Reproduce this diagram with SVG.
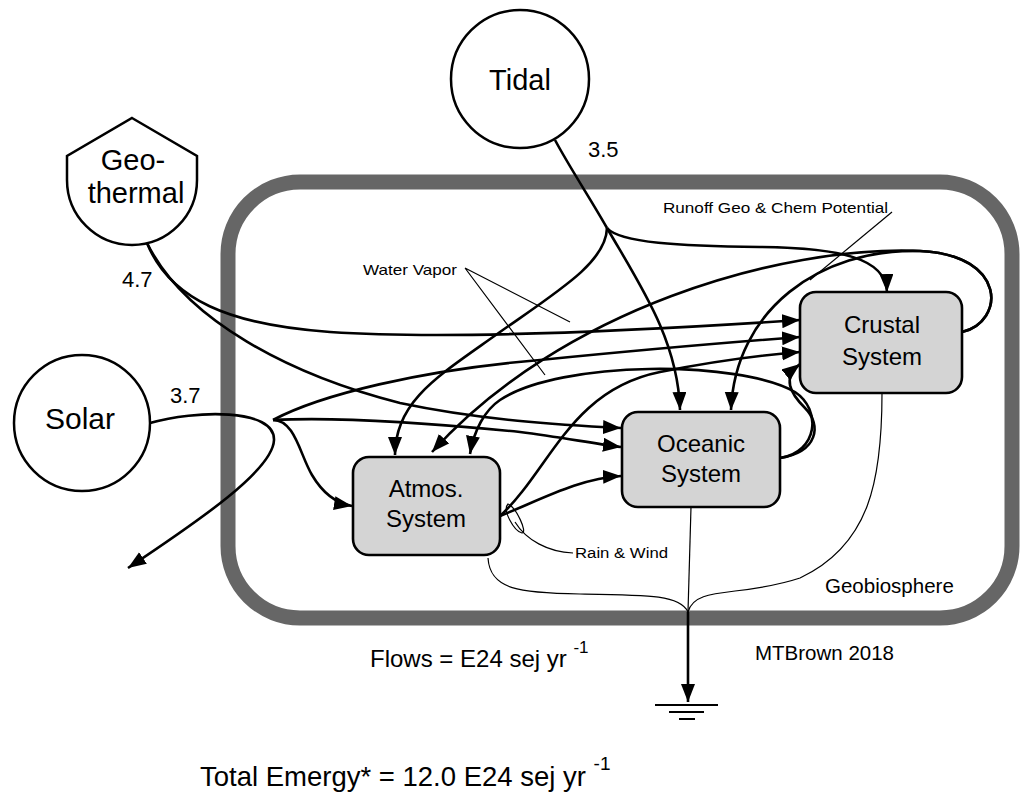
<svg xmlns="http://www.w3.org/2000/svg" width="1024" height="793" viewBox="0 0 1024 793">
<defs>
<style>
.flow{fill:none;stroke:#000;stroke-width:2.6}
.thin{fill:none;stroke:#000;stroke-width:1.2}
.src{fill:#fff;stroke:#000;stroke-width:2.5}
.box{fill:#d4d4d4;stroke:#000;stroke-width:2.6}
.t{font-family:"Liberation Sans",Arial,sans-serif;fill:#000}
.lbl{font-family:"Liberation Sans",Arial,sans-serif;fill:#000;text-anchor:middle}
</style>
<marker id="ah" markerUnits="userSpaceOnUse" markerWidth="20" markerHeight="16" refX="18" refY="7" orient="auto">
<path d="M0,0 L18,7 L0,14 Z" fill="#000"/>
</marker>
</defs>
<rect width="1024" height="793" fill="#fff"/>
<g id="geobiosphere">
<rect x="228" y="182" width="784" height="436" rx="72" ry="72" fill="none" stroke="#666" stroke-width="15"/>
<text class="t" x="825" y="593" font-size="20.5">Geobiosphere</text>
</g>
<g id="connectors">
<path class="flow" d="M555,140 C570,168 590,198 607,228"/>
<path class="flow" marker-end="url(#ah)" d="M607,228 C640,285 678,340 680,410"/>
<path class="flow" marker-end="url(#ah)" d="M607,228 C606,262 560,290 500,332 C440,375 395,400 395,455"/>
<path class="flow" marker-end="url(#ah)" d="M607,228 C620,243 680,246 760,247 C840,248 886,258 887,292"/>
<path class="flow" marker-end="url(#ah)" d="M147,243 C170,300 230,325 330,332 C450,340 650,330 800,320"/>
<path class="flow" marker-end="url(#ah)" d="M147,243 C185,320 290,375 400,403 C480,420 560,425 621,428"/>
<path class="flow" marker-end="url(#ah)" d="M150,423 C195,410 275,408 274,440 C273,470 200,520 128,568"/>
<path class="flow" marker-end="url(#ah)" d="M273,420 C295,420 300,455 312,475 C325,497 340,504 352,506"/>
<path class="flow" marker-end="url(#ah)" d="M273,420 C320,395 420,370 540,360 C640,350 720,343 800,337"/>
<path class="flow" marker-end="url(#ah)" d="M273,420 C350,416 450,425 520,432 C560,437 590,443 621,447"/>
<path class="flow" marker-end="url(#ah)" d="M500,516 C540,500 580,478 621,476"/>
<path class="flow" marker-end="url(#ah)" d="M500,516 C550,470 570,390 660,372 C700,364 750,356 800,352"/>
<path class="flow" marker-end="url(#ah)" d="M962,332 C1005,322 1008,255 920,251 C780,245 560,310 432,452"/>
<path class="flow" marker-end="url(#ah)" d="M962,332 C1005,322 1008,255 920,251 C820,248 735,310 731,410"/>
<path class="flow" marker-end="url(#ah)" d="M780,458 C818,452 822,410 795,392 C740,360 560,360 500,400 C485,410 474,430 470,454"/>
<path class="flow" marker-end="url(#ah)" d="M780,458 C818,452 822,425 805,408 C790,393 782,378 800,364"/>
<path class="thin" d="M488,558 C490,590 520,593 580,594 C650,595 680,595 688,612"/>
<path class="thin" d="M691,507 L688,612"/>
<path class="thin" d="M882,393 C882,480 870,545 800,578 C740,598 695,585 688,612"/>
<path class="flow" stroke-width="2.2" marker-end="url(#ah)" d="M688,612 L688,702"/>
<path class="thin" d="M465,268 L570,322 M465,268 L545,375"/>
<path class="thin" d="M892,212 L810,280"/>
<path class="thin" d="M508,504 C502,510 514,531 522,533 C528,533 516,507 508,504 Z"/>
<path class="thin" d="M515,522 C526,540 548,552 573,553"/>
</g>
<g id="ground">
<path d="M655,705 H718 M669,712 H704 M679,719 H695" stroke="#000" stroke-width="2"/>
</g>
<g id="tidal">
<circle class="src" cx="520" cy="79" r="69"/>
<text class="lbl" x="520" y="90" font-size="29">Tidal</text>
</g>
<g id="geothermal">
<path class="src" d="M132,118 L197,156 L197,180 A65,65 0 0 1 67,180 L67,156 Z"/>
<text class="lbl" x="133" y="170" font-size="29">Geo-</text>
<text class="lbl" x="136" y="203" font-size="29">thermal</text>
</g>
<g id="solar">
<circle class="src" cx="82" cy="423" r="68"/>
<text class="lbl" x="80" y="429" font-size="30">Solar</text>
</g>
<g id="atmos">
<rect class="box" x="353" y="457" width="147" height="98" rx="16"/>
<text class="lbl" x="426" y="497" font-size="24">Atmos.</text>
<text class="lbl" x="426" y="527" font-size="24">System</text>
</g>
<g id="oceanic">
<rect class="box" x="622" y="412" width="158" height="95" rx="16"/>
<text class="lbl" x="701" y="452" font-size="24">Oceanic</text>
<text class="lbl" x="701" y="482" font-size="24">System</text>
</g>
<g id="crustal">
<rect class="box" x="800" y="292" width="162" height="101" rx="16"/>
<text class="lbl" x="882" y="333" font-size="24">Crustal</text>
<text class="lbl" x="882" y="365" font-size="24">System</text>
</g>
<g id="labels">
<text class="t" x="588" y="157" font-size="22">3.5</text>
<text class="t" x="122" y="287" font-size="22">4.7</text>
<text class="t" x="170" y="403" font-size="22">3.7</text>
<text class="t" x="363" y="275" font-size="15" textLength="94" lengthAdjust="spacingAndGlyphs">Water Vapor</text>
<text class="t" x="663" y="213" font-size="14.5" textLength="225" lengthAdjust="spacingAndGlyphs">Runoff Geo &amp; Chem Potential</text>
<text class="t" x="575" y="558" font-size="15.5" textLength="93" lengthAdjust="spacingAndGlyphs">Rain &amp; Wind</text>
<text class="t" x="755" y="660" font-size="20.5">MTBrown 2018</text>
<text class="t" x="370" y="667" font-size="24">Flows = E24 sej yr <tspan dy="-14" font-size="17">-1</tspan></text>
<text class="t" x="200" y="786" font-size="27.5">Total Emergy* = 12.0 E24 sej yr <tspan dy="-16" font-size="19">-1</tspan></text>
</g>
</svg>
